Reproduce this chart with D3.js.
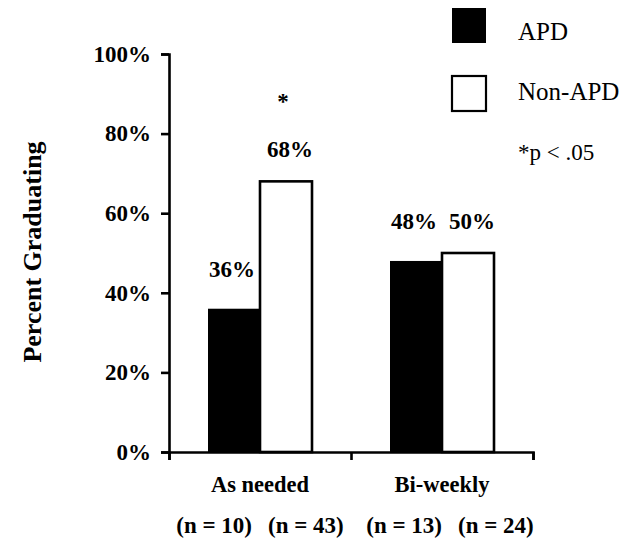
<!DOCTYPE html>
<html>
<head>
<meta charset="utf-8">
<script src="https://cdn.jsdelivr.net/npm/d3@7/dist/d3.min.js"></script>
<style>
  html, body { margin: 0; padding: 0; background: #fff; }
  svg { display: block; }
  text { font-family: "Liberation Serif", "Times New Roman", serif; fill: #000; }
</style>
</head>
<body>
<div id="chart"></div>
<script>
// ---- data ----
const categories = ["As needed", "Bi-weekly"];
const series = ["APD", "Non-APD"];
const apdValues = [36, 48];
const nonApdValues = [68, 50];
const apdN = [10, 13];
const nonApdN = [43, 24];
const yTicks = [0, 20, 40, 60, 80, 100];
const significantCategories = ["As needed"];
const yTitle = "Percent Graduating";
const sigNote = "*p < .05";

// ---- layout ----
const W = 629, H = 550;
const mLeft = 169, mRight = 533, mTop = 54, mBottom = 452;

const svg = d3.select("#chart").append("svg")
  .attr("width", W).attr("height", H);

const rows = categories.map((c, i) => ({
  category: c,
  values: [
    { series: series[0], value: apdValues[i], n: apdN[i] },
    { series: series[1], value: nonApdValues[i], n: nonApdN[i] }
  ]
}));

const x0 = d3.scaleBand().domain(categories).range([mLeft, mRight]).paddingInner(0).paddingOuter(0);
const x1 = d3.scaleBand().domain(series).range([0, x0.bandwidth()]).paddingInner(0).paddingOuter(0.75);
const y = d3.scaleLinear().domain([0, 100]).range([mBottom, mTop]);
const color = d3.scaleOrdinal().domain(series).range(["#000", "#fff"]);

// y axis
const yAxis = svg.append("g")
  .attr("transform", `translate(${mLeft},0)`)
  .call(d3.axisLeft(y).tickValues(yTicks).tickSize(8).tickSizeOuter(8).tickPadding(10)
    .tickFormat(d => d + "%"));
yAxis.select(".domain").attr("stroke", "#000").attr("stroke-width", 2.6);
yAxis.selectAll(".tick line").attr("stroke", "#000").attr("stroke-width", 2.6);
yAxis.selectAll(".tick text")
  .attr("font-family", "Liberation Serif, serif")
  .attr("font-size", 23).attr("font-weight", "bold").attr("fill", "#000");

// bars
const groups = svg.append("g").selectAll("g").data(rows).join("g")
  .attr("transform", d => `translate(${x0(d.category)},0)`);

groups.selectAll("rect").data(d => d.values).join("rect")
  .attr("x", d => x1(d.series))
  .attr("y", d => y(d.value))
  .attr("width", x1.bandwidth())
  .attr("height", d => y(0) - y(d.value))
  .attr("fill", d => color(d.series))
  .attr("stroke", "#000")
  .attr("stroke-width", d => d.series === series[0] ? 0 : 2.6);

// value labels
groups.selectAll("text.val").data(d => d.values).join("text")
  .attr("class", "val")
  .attr("x", d => x1(d.series) + x1.bandwidth() / 2 + (d.series === series[0] ? -2 : 4))
  .attr("y", d => y(d.value) - (d.series === series[0] ? 32 : 24))
  .attr("text-anchor", "middle")
  .attr("font-size", 23).attr("font-weight", "bold")
  .text(d => d.value + "%");

// significance star
groups.filter(d => significantCategories.includes(d.category))
  .append("text")
  .attr("x", x1(series[1]) + x1.bandwidth() / 2 - 3)
  .attr("y", d => y(d.values[1].value) - 72)
  .attr("text-anchor", "middle")
  .attr("font-size", 23).attr("font-weight", "bold")
  .text("*");

// x axis (ticks at category boundaries)
const xb = d3.scaleLinear().domain([0, categories.length]).range([mLeft, mRight]);
const xAxis = svg.append("g")
  .attr("transform", `translate(0,${mBottom})`)
  .call(d3.axisBottom(xb).tickValues(d3.range(categories.length + 1)).tickSize(8).tickSizeOuter(8).tickFormat(""));
xAxis.select(".domain").attr("stroke", "#000").attr("stroke-width", 2.6);
xAxis.selectAll(".tick line").attr("stroke", "#000").attr("stroke-width", 2.6);

// category labels
svg.append("g").selectAll("text").data(categories).join("text")
  .attr("x", d => x0(d) + x0.bandwidth() / 2)
  .attr("y", 492)
  .attr("text-anchor", "middle")
  .attr("font-size", 22.5).attr("font-weight", "bold")
  .text(d => d);

// n labels
const nLabels = svg.append("g");
rows.forEach((r, i) => {
  const cx = x0(r.category) + x0.bandwidth() / 2 + i * 8;
  r.values.forEach((v, j) => {
    nLabels.append("text")
      .attr("x", j === 0 ? cx - 8 : cx + 8)
      .attr("y", 533)
      .attr("text-anchor", j === 0 ? "end" : "start")
      .attr("font-size", 23).attr("font-weight", "bold")
      .text(`(n = ${v.n})`);
  });
});

// y title
svg.append("text")
  .attr("transform", `translate(41,252) rotate(-90)`)
  .attr("text-anchor", "middle")
  .attr("font-size", 26).attr("font-weight", "bold")
  .text(yTitle);

// legend
const legend = svg.append("g");
series.forEach((s, i) => {
  legend.append("rect")
    .attr("x", 452).attr("y", 8 + i * 68)
    .attr("width", 34).attr("height", 35)
    .attr("fill", color(s))
    .attr("stroke", "#000").attr("stroke-width", i === 0 ? 0 : 2.2);
  legend.append("text")
    .attr("x", 518).attr("y", 40 + i * 60)
    .attr("font-size", 25)
    .text(s);
});
legend.append("text")
  .attr("x", 518).attr("y", 160)
  .attr("font-size", 23)
  .text(sigNote);
</script>
</body>
</html>
